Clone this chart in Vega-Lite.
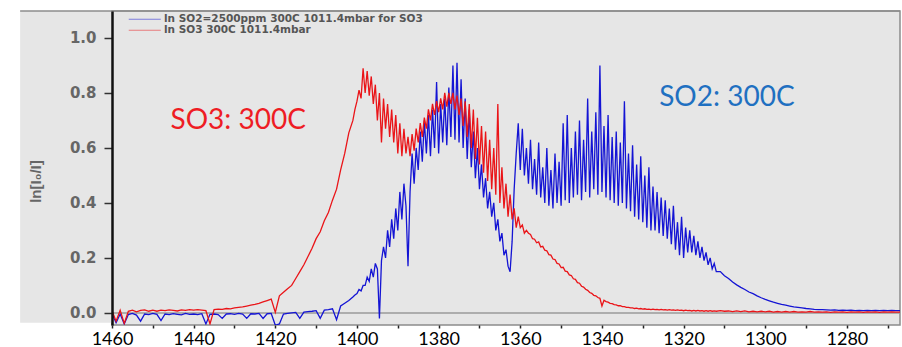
{
  "$schema": "https://vega.github.io/schema/vega-lite/v6.json",
  "width": 788,
  "height": 314,
  "autosize": {"type": "none"},
  "padding": {"left": 112, "top": 11, "right": 2, "bottom": 22},
  "background": "white",
  "config": {"view": {"fill": "#e6e6e6", "stroke": "#8c8c8c", "strokeWidth": 1.5}},
  "data": {"values": [
    {"x":1460,"b":-0.003,"r":0.008},{"x":1459,"b":-0.036,"r":-0.03},{"x":1458,"b":-0.004,"r":0.01},{"x":1457,"b":-0.04,"r":-0.038},
    {"x":1456,"b":-0.006,"r":0.006},{"x":1455,"b":-0.002,"r":0.01},{"x":1454,"b":-0.008,"r":0.004},{"x":1453,"b":-0.03,"r":0.009},
    {"x":1452,"b":-0.004,"r":0.011},{"x":1451,"b":-0.006,"r":0.006},{"x":1450,"b":-0.002,"r":0.01},{"x":1449,"b":-0.005,"r":0.006},
    {"x":1448,"b":-0.028,"r":0.01},{"x":1447,"b":-0.004,"r":0.008},{"x":1446,"b":-0.006,"r":0.011},{"x":1445,"b":-0.003,"r":0.009},
    {"x":1444,"b":-0.005,"r":0.007},{"x":1443,"b":-0.007,"r":0.011},{"x":1442,"b":-0.002,"r":0.009},{"x":1441,"b":-0.005,"r":0.012},
    {"x":1440,"b":-0.004,"r":0.01},{"x":1439,"b":-0.006,"r":0.012},{"x":1438,"b":-0.003,"r":0.01},{"x":1437,"b":-0.04,"r":0.008},
    {"x":1436,"b":-0.005,"r":-0.04},{"x":1435,"b":-0.004,"r":0.012},{"x":1434,"b":-0.006,"r":0.014},{"x":1433,"b":-0.02,"r":0.013},
    {"x":1432,"b":-0.004,"r":0.016},{"x":1431,"b":-0.003,"r":0.015},{"x":1430,"b":-0.005,"r":0.018},{"x":1429,"b":-0.002,"r":0.02},
    {"x":1428,"b":-0.004,"r":0.022},{"x":1427,"b":-0.02,"r":0.025},{"x":1426,"b":-0.003,"r":0.028},{"x":1425,"b":-0.004,"r":0.031},
    {"x":1424,"b":-0.002,"r":0.035},{"x":1423,"b":-0.02,"r":0.04},{"x":1422,"b":-0.003,"r":0.045},{"x":1421,"b":-0.002,"r":0.05},
    {"x":1420,"b":-0.045,"r":0.002},{"x":1419,"b":-0.04,"r":0.062},{"x":1418,"b":-0.004,"r":0.075},{"x":1417,"b":-0.002,"r":0.088},
    {"x":1416,"b":0.0,"r":0.1},{"x":1415,"b":0.002,"r":0.125},{"x":1414,"b":-0.02,"r":0.15},{"x":1413,"b":0.003,"r":0.175},
    {"x":1412,"b":0.005,"r":0.205},{"x":1411,"b":0.006,"r":0.235},{"x":1410,"b":0.008,"r":0.27},{"x":1409,"b":-0.02,"r":0.295},
    {"x":1408,"b":0.01,"r":0.335},{"x":1407,"b":0.012,"r":0.365},{"x":1406,"b":0.015,"r":0.41},{"x":1405,"b":-0.025,"r":0.45},
    {"x":1404,"b":0.025,"r":0.52},{"x":1403,"b":0.035,"r":0.58},{"x":1402,"b":0.045,"r":0.655},{"x":1401,"b":0.058,"r":0.7},
    {"x":1400.5,"b":0.065,"r":0.74},
    {"x":1400,"b":0.07,"r":0.77},{"x":1399.5,"b":0.085,"r":0.81},{"x":1399,"b":0.08,"r":0.78},{"x":1398.5,"b":0.1,"r":0.89},
    {"x":1398,"b":0.1,"r":0.8},{"x":1397.5,"b":0.13,"r":0.88},{"x":1397,"b":0.115,"r":0.79},{"x":1396.5,"b":0.16,"r":0.86},
    {"x":1396,"b":0.13,"r":0.76},{"x":1395.5,"b":0.18,"r":0.83},{"x":1395,"b":0.16,"r":0.7},{"x":1394.5,"b":-0.02,"r":0.8},
    {"x":1394,"b":0.19,"r":0.62},{"x":1393.5,"b":0.24,"r":0.78},{"x":1393,"b":0.2,"r":0.67},{"x":1392.5,"b":0.3,"r":0.76},
    {"x":1392,"b":0.24,"r":0.64},{"x":1391.5,"b":0.34,"r":0.74},{"x":1391,"b":0.27,"r":0.62},{"x":1390.5,"b":0.38,"r":0.72},
    {"x":1390,"b":0.3,"r":0.58},{"x":1389.5,"b":0.44,"r":0.69},{"x":1389,"b":0.34,"r":0.57},{"x":1388.5,"b":0.47,"r":0.67},
    {"x":1388,"b":0.39,"r":0.58},{"x":1387.5,"b":0.17,"r":0.64},{"x":1387,"b":0.44,"r":0.57},{"x":1386.5,"b":0.58,"r":0.65},
    {"x":1386,"b":0.47,"r":0.59},{"x":1385.5,"b":0.6,"r":0.67},{"x":1385,"b":0.52,"r":0.62},{"x":1384.5,"b":0.66,"r":0.69},
    {"x":1384,"b":0.55,"r":0.64},{"x":1383.5,"b":0.7,"r":0.71},{"x":1383,"b":0.58,"r":0.67},{"x":1382.5,"b":0.72,"r":0.74},
    {"x":1382,"b":0.57,"r":0.7},{"x":1381.5,"b":0.74,"r":0.76},{"x":1381,"b":0.6,"r":0.72},{"x":1380.5,"b":0.84,"r":0.77},
    {"x":1380,"b":0.58,"r":0.73},{"x":1379.5,"b":0.76,"r":0.78},{"x":1379,"b":0.62,"r":0.74},{"x":1378.5,"b":0.78,"r":0.8},
    {"x":1378,"b":0.61,"r":0.75},{"x":1377.5,"b":0.82,"r":0.8},{"x":1377,"b":0.64,"r":0.76},{"x":1376.5,"b":0.9,"r":0.8},
    {"x":1376,"b":0.63,"r":0.74},{"x":1375.5,"b":0.91,"r":0.79},{"x":1375,"b":0.62,"r":0.72},{"x":1374.5,"b":0.85,"r":0.78},
    {"x":1374,"b":0.6,"r":0.68},{"x":1373.5,"b":0.78,"r":0.77},{"x":1373,"b":0.56,"r":0.64},{"x":1372.5,"b":0.74,"r":0.76},
    {"x":1372,"b":0.53,"r":0.6},{"x":1371.5,"b":0.66,"r":0.74},{"x":1371,"b":0.49,"r":0.56},{"x":1370.5,"b":0.6,"r":0.71},
    {"x":1370,"b":0.45,"r":0.54},{"x":1369.5,"b":0.54,"r":0.68},{"x":1369,"b":0.42,"r":0.51},{"x":1368.5,"b":0.49,"r":0.66},
    {"x":1368,"b":0.38,"r":0.48},{"x":1367.5,"b":0.44,"r":0.63},{"x":1367,"b":0.35,"r":0.45},{"x":1366.5,"b":0.4,"r":0.6},
    {"x":1366,"b":0.3,"r":0.43},{"x":1365.5,"b":0.34,"r":0.76},{"x":1365,"b":0.26,"r":0.4},{"x":1364.5,"b":0.29,"r":0.53},
    {"x":1364,"b":0.21,"r":0.38},{"x":1363.5,"b":0.23,"r":0.47},{"x":1363,"b":0.17,"r":0.35},{"x":1362.5,"b":0.15,"r":0.43},
    {"x":1362,"b":0.26,"r":0.34},{"x":1361.5,"b":0.45,"r":0.38},{"x":1361,"b":0.58,"r":0.31},{"x":1360.5,"b":0.69,"r":0.35},
    {"x":1360,"b":0.52,"r":0.31},{"x":1359.5,"b":0.67,"r":0.32},{"x":1359,"b":0.5,"r":0.29},{"x":1358.5,"b":0.6,"r":0.3},
    {"x":1358,"b":0.47,"r":0.29},{"x":1357.5,"b":0.63,"r":0.285},{"x":1357,"b":0.45,"r":0.27},{"x":1356.5,"b":0.56,"r":0.268},
    {"x":1356,"b":0.43,"r":0.255},{"x":1355.5,"b":0.62,"r":0.258},{"x":1355,"b":0.42,"r":0.24},{"x":1354.5,"b":0.53,"r":0.242},
    {"x":1354,"b":0.4,"r":0.228},{"x":1353.5,"b":0.6,"r":0.226},{"x":1353,"b":0.39,"r":0.212},{"x":1352.5,"b":0.52,"r":0.21},
    {"x":1352,"b":0.38,"r":0.196},{"x":1351.5,"b":0.58,"r":0.194},{"x":1351,"b":0.4,"r":0.18},{"x":1350.5,"b":0.55,"r":0.178},
    {"x":1350,"b":0.39,"r":0.165},{"x":1349.5,"b":0.69,"r":0.166},{"x":1349,"b":0.41,"r":0.152},{"x":1348.5,"b":0.72,"r":0.15},
    {"x":1348,"b":0.4,"r":0.138},{"x":1347.5,"b":0.6,"r":0.136},{"x":1347,"b":0.42,"r":0.124},{"x":1346.5,"b":0.66,"r":0.122},
    {"x":1346,"b":0.43,"r":0.11},{"x":1345.5,"b":0.7,"r":0.108},{"x":1345,"b":0.41,"r":0.097},{"x":1344.5,"b":0.63,"r":0.094},
    {"x":1344,"b":0.44,"r":0.086},{"x":1343.5,"b":0.78,"r":0.082},{"x":1343,"b":0.42,"r":0.074},{"x":1342.5,"b":0.66,"r":0.071},
    {"x":1342,"b":0.45,"r":0.064},{"x":1341.5,"b":0.73,"r":0.062},{"x":1341,"b":0.43,"r":0.056},{"x":1340.5,"b":0.9,"r":0.053},
    {"x":1340,"b":0.44,"r":0.025},{"x":1339.5,"b":0.68,"r":0.046},{"x":1339,"b":0.42,"r":0.041},{"x":1338.5,"b":0.72,"r":0.039},
    {"x":1338,"b":0.41,"r":0.035},{"x":1337.5,"b":0.64,"r":0.034},{"x":1337,"b":0.4,"r":0.03},{"x":1336.5,"b":0.66,"r":0.029},
    {"x":1336,"b":0.39,"r":0.026},{"x":1335.5,"b":0.62,"r":0.026},{"x":1335,"b":0.4,"r":0.023},{"x":1334.5,"b":0.77,"r":0.023},
    {"x":1334,"b":0.38,"r":0.02},{"x":1333.5,"b":0.58,"r":0.02},{"x":1333,"b":0.37,"r":0.018},{"x":1332.5,"b":0.61,"r":0.018},
    {"x":1332,"b":0.35,"r":0.016},{"x":1331.5,"b":0.54,"r":0.017},{"x":1331,"b":0.34,"r":0.015},{"x":1330.5,"b":0.57,"r":0.016},
    {"x":1330,"b":0.33,"r":0.014},{"x":1329.5,"b":0.5,"r":0.015},{"x":1329,"b":0.31,"r":0.013},{"x":1328.5,"b":0.53,"r":0.014},
    {"x":1328,"b":0.3,"r":0.012},{"x":1327.5,"b":0.46,"r":0.014},{"x":1327,"b":0.3,"r":0.012},{"x":1326.5,"b":0.44,"r":0.013},
    {"x":1326,"b":0.29,"r":0.011},{"x":1325.5,"b":0.42,"r":0.013},{"x":1325,"b":0.28,"r":0.011},{"x":1324.5,"b":0.41,"r":0.012},
    {"x":1324,"b":0.27,"r":0.01},{"x":1323.5,"b":0.38,"r":0.012},{"x":1323,"b":0.25,"r":0.01},{"x":1322.5,"b":0.39,"r":0.011},
    {"x":1322,"b":0.23,"r":0.009},{"x":1321.5,"b":0.33,"r":0.011},{"x":1321,"b":0.21,"r":0.009},{"x":1320.5,"b":0.35,"r":0.01},
    {"x":1320,"b":0.2,"r":0.008},{"x":1319.5,"b":0.31,"r":0.01},{"x":1319,"b":0.22,"r":0.008},{"x":1318.5,"b":0.3,"r":0.009},
    {"x":1318,"b":0.22,"r":0.007},{"x":1317.5,"b":0.28,"r":0.009},{"x":1317,"b":0.21,"r":0.007},{"x":1316.5,"b":0.26,"r":0.009},
    {"x":1316,"b":0.2,"r":0.007},{"x":1315.5,"b":0.24,"r":0.008},{"x":1315,"b":0.19,"r":0.006},{"x":1314.5,"b":0.22,"r":0.008},
    {"x":1314,"b":0.175,"r":0.006},{"x":1313.5,"b":0.2,"r":0.008},{"x":1313,"b":0.16,"r":0.006},{"x":1312.5,"b":0.18,"r":0.007},
    {"x":1312,"b":0.15,"r":0.006},
    {"x":1311,"b":0.15,"r":0.008},{"x":1310,"b":0.135,"r":0.006},{"x":1309,"b":0.125,"r":0.007},{"x":1308,"b":0.112,"r":0.005},
    {"x":1307,"b":0.102,"r":0.007},{"x":1306,"b":0.093,"r":0.005},{"x":1305,"b":0.085,"r":0.007},{"x":1304,"b":0.076,"r":0.004},
    {"x":1303,"b":0.07,"r":0.006},{"x":1302,"b":0.062,"r":0.004},{"x":1301,"b":0.055,"r":0.006},{"x":1300,"b":0.049,"r":0.004},
    {"x":1299,"b":0.044,"r":0.006},{"x":1298,"b":0.039,"r":0.003},{"x":1297,"b":0.035,"r":0.005},{"x":1296,"b":0.031,"r":0.003},
    {"x":1295,"b":0.028,"r":0.005},{"x":1294,"b":0.025,"r":0.003},{"x":1293,"b":0.022,"r":0.005},{"x":1292,"b":0.02,"r":0.003},
    {"x":1291,"b":0.018,"r":0.004},{"x":1290,"b":0.016,"r":0.003},{"x":1289,"b":0.015,"r":0.005},{"x":1288,"b":0.013,"r":0.003},
    {"x":1287,"b":0.012,"r":0.004},{"x":1286,"b":0.012,"r":0.003},{"x":1285,"b":0.011,"r":0.004},{"x":1284,"b":0.01,"r":0.002},
    {"x":1283,"b":0.011,"r":0.004},{"x":1282,"b":0.009,"r":0.003},{"x":1281,"b":0.01,"r":0.004},{"x":1280,"b":0.009,"r":0.002},
    {"x":1279,"b":0.01,"r":0.004},{"x":1278,"b":0.008,"r":0.003},{"x":1277,"b":0.009,"r":0.004},{"x":1276,"b":0.008,"r":0.002},
    {"x":1275,"b":0.009,"r":0.004},{"x":1274,"b":0.008,"r":0.003},{"x":1273,"b":0.009,"r":0.004},{"x":1272,"b":0.008,"r":0.002},
    {"x":1271,"b":0.009,"r":0.004},{"x":1270,"b":0.008,"r":0.003},{"x":1269,"b":0.009,"r":0.004},{"x":1268,"b":0.008,"r":0.003},
    {"x":1267,"b":0.008,"r":0.003}
  ]},
  "layer": [
    {
      "data": {"values": [{}]},
      "mark": {"type": "rect", "fill": "#e6e6e6", "clip": false},
      "encoding": {
        "x": {"datum": 1482.5, "type": "quantitative", "scale": {"domain": [1267, 1460], "reverse": true, "nice": false, "zero": false}},
        "x2": {"datum": 1460},
        "y": {"datum": 1.098, "type": "quantitative", "scale": {"domain": [-0.044, 1.098], "nice": false, "zero": false}},
        "y2": {"datum": -0.036}
      }
    },
    {
      "data": {"values": [{}]},
      "mark": {"type": "rule", "stroke": "#8c8c8c", "strokeWidth": 1.5, "clip": false},
      "encoding": {
        "x": {"datum": 1482.5, "type": "quantitative"},
        "x2": {"datum": 1267},
        "y": {"datum": 1.098, "type": "quantitative"}
      }
    },
    {
      "data": {"values": [{}]},
      "mark": {"type": "rule", "stroke": "#9a9a9a", "strokeWidth": 1.5},
      "encoding": {"y": {"datum": 0, "type": "quantitative"}}
    },
    {
      "mark": {"type": "line", "strokeWidth": 1.3, "clip": true},
      "encoding": {
        "x": {
          "field": "x", "type": "quantitative",
          "scale": {"domain": [1267, 1460], "reverse": true, "nice": false, "zero": false},
          "axis": {
            "title": null, "values": [1270,1280,1290,1300,1310,1320,1330,1340,1350,1360,1370,1380,1390,1400,1410,1420,1430,1440,1450,1460],
            "format": "d", "labelExpr": "datum.value % 20 === 0 ? datum.label : ''", "labelFlush": false, "labelOverlap": false,
            "labelFont": "Lato", "labelFontSize": 18, "labelColor": "#000", "labelPadding": 2,
            "tickColor": "#222", "tickSize": 3, "tickWidth": 1.5, "domain": false, "grid": false, "zindex": 1
          }
        },
        "y": {
          "field": "b", "type": "quantitative",
          "scale": {"domain": [-0.044, 1.098], "nice": false, "zero": false},
          "axis": {
            "title": "ln[I₀/I]", "titleFont": "Liberation Sans", "titleFontWeight": "bold", "titleFontSize": 15,
            "titleColor": "#666", "titleX": -77, "titleY": 170, "titleBaseline": "middle", "titleAlign": "center",
            "values": [0, 0.1, 0.2, 0.3, 0.4, 0.5, 0.6, 0.7, 0.8, 0.9, 1.0, 1.1],
            "labelExpr": "round(datum.value*10) % 2 === 0 ? format(datum.value, '.1f') : ''", "labelOverlap": false, "labelFlush": false,
            "labelFont": "DejaVu Sans", "labelFontWeight": "bold", "labelFontSize": 15, "labelColor": "#666",
            "labelPadding": 8, "tickSize": 8, "tickColor": "#333", "tickWidth": 1.5,
            "domainColor": "#111", "domainWidth": 2.5, "grid": false, "zindex": 1
          }
        },
        "color": {
          "datum": "ln SO2=2500ppm 300C 1011.4mbar for SO3",
          "scale": {"domain": ["ln SO2=2500ppm 300C 1011.4mbar for SO3", "ln SO3 300C 1011.4mbar"], "range": ["#1414d4", "#ea1418"]},
          "legend": {
            "orient": "none", "legendX": 27.5, "legendY": 3, "title": null, "padding": 0,
            "symbolType": "M-8,0H8", "symbolSize": 16, "symbolStrokeWidth": 1, "symbolOpacity": 0.5,
            "labelFont": "DejaVu Sans", "labelFontWeight": "bold", "labelFontSize": 10.5, "labelColor": "#555",
            "labelOffset": 14, "rowPadding": 0, "labelLimit": 400
          }
        }
      }
    },
    {
      "mark": {"type": "line", "strokeWidth": 1.3, "clip": true},
      "encoding": {
        "x": {"field": "x", "type": "quantitative"},
        "y": {"field": "r", "type": "quantitative"},
        "color": {"datum": "ln SO3 300C 1011.4mbar"}
      }
    },
    {
      "data": {"values": [{}]},
      "mark": {"type": "text", "text": "SO3: 300C", "font": "Lato", "fontSize": 28, "fill": "#ee1c24", "align": "center", "baseline": "middle"},
      "encoding": {"x": {"datum": 1429.1, "type": "quantitative"}, "y": {"datum": 0.698, "type": "quantitative"}}
    },
    {
      "data": {"values": [{}]},
      "mark": {"type": "text", "text": "SO2: 300C", "font": "Lato", "fontSize": 28, "fill": "#1f70c1", "align": "center", "baseline": "middle"},
      "encoding": {"x": {"datum": 1309.4, "type": "quantitative"}, "y": {"datum": 0.782, "type": "quantitative"}}
    }
  ]
}
